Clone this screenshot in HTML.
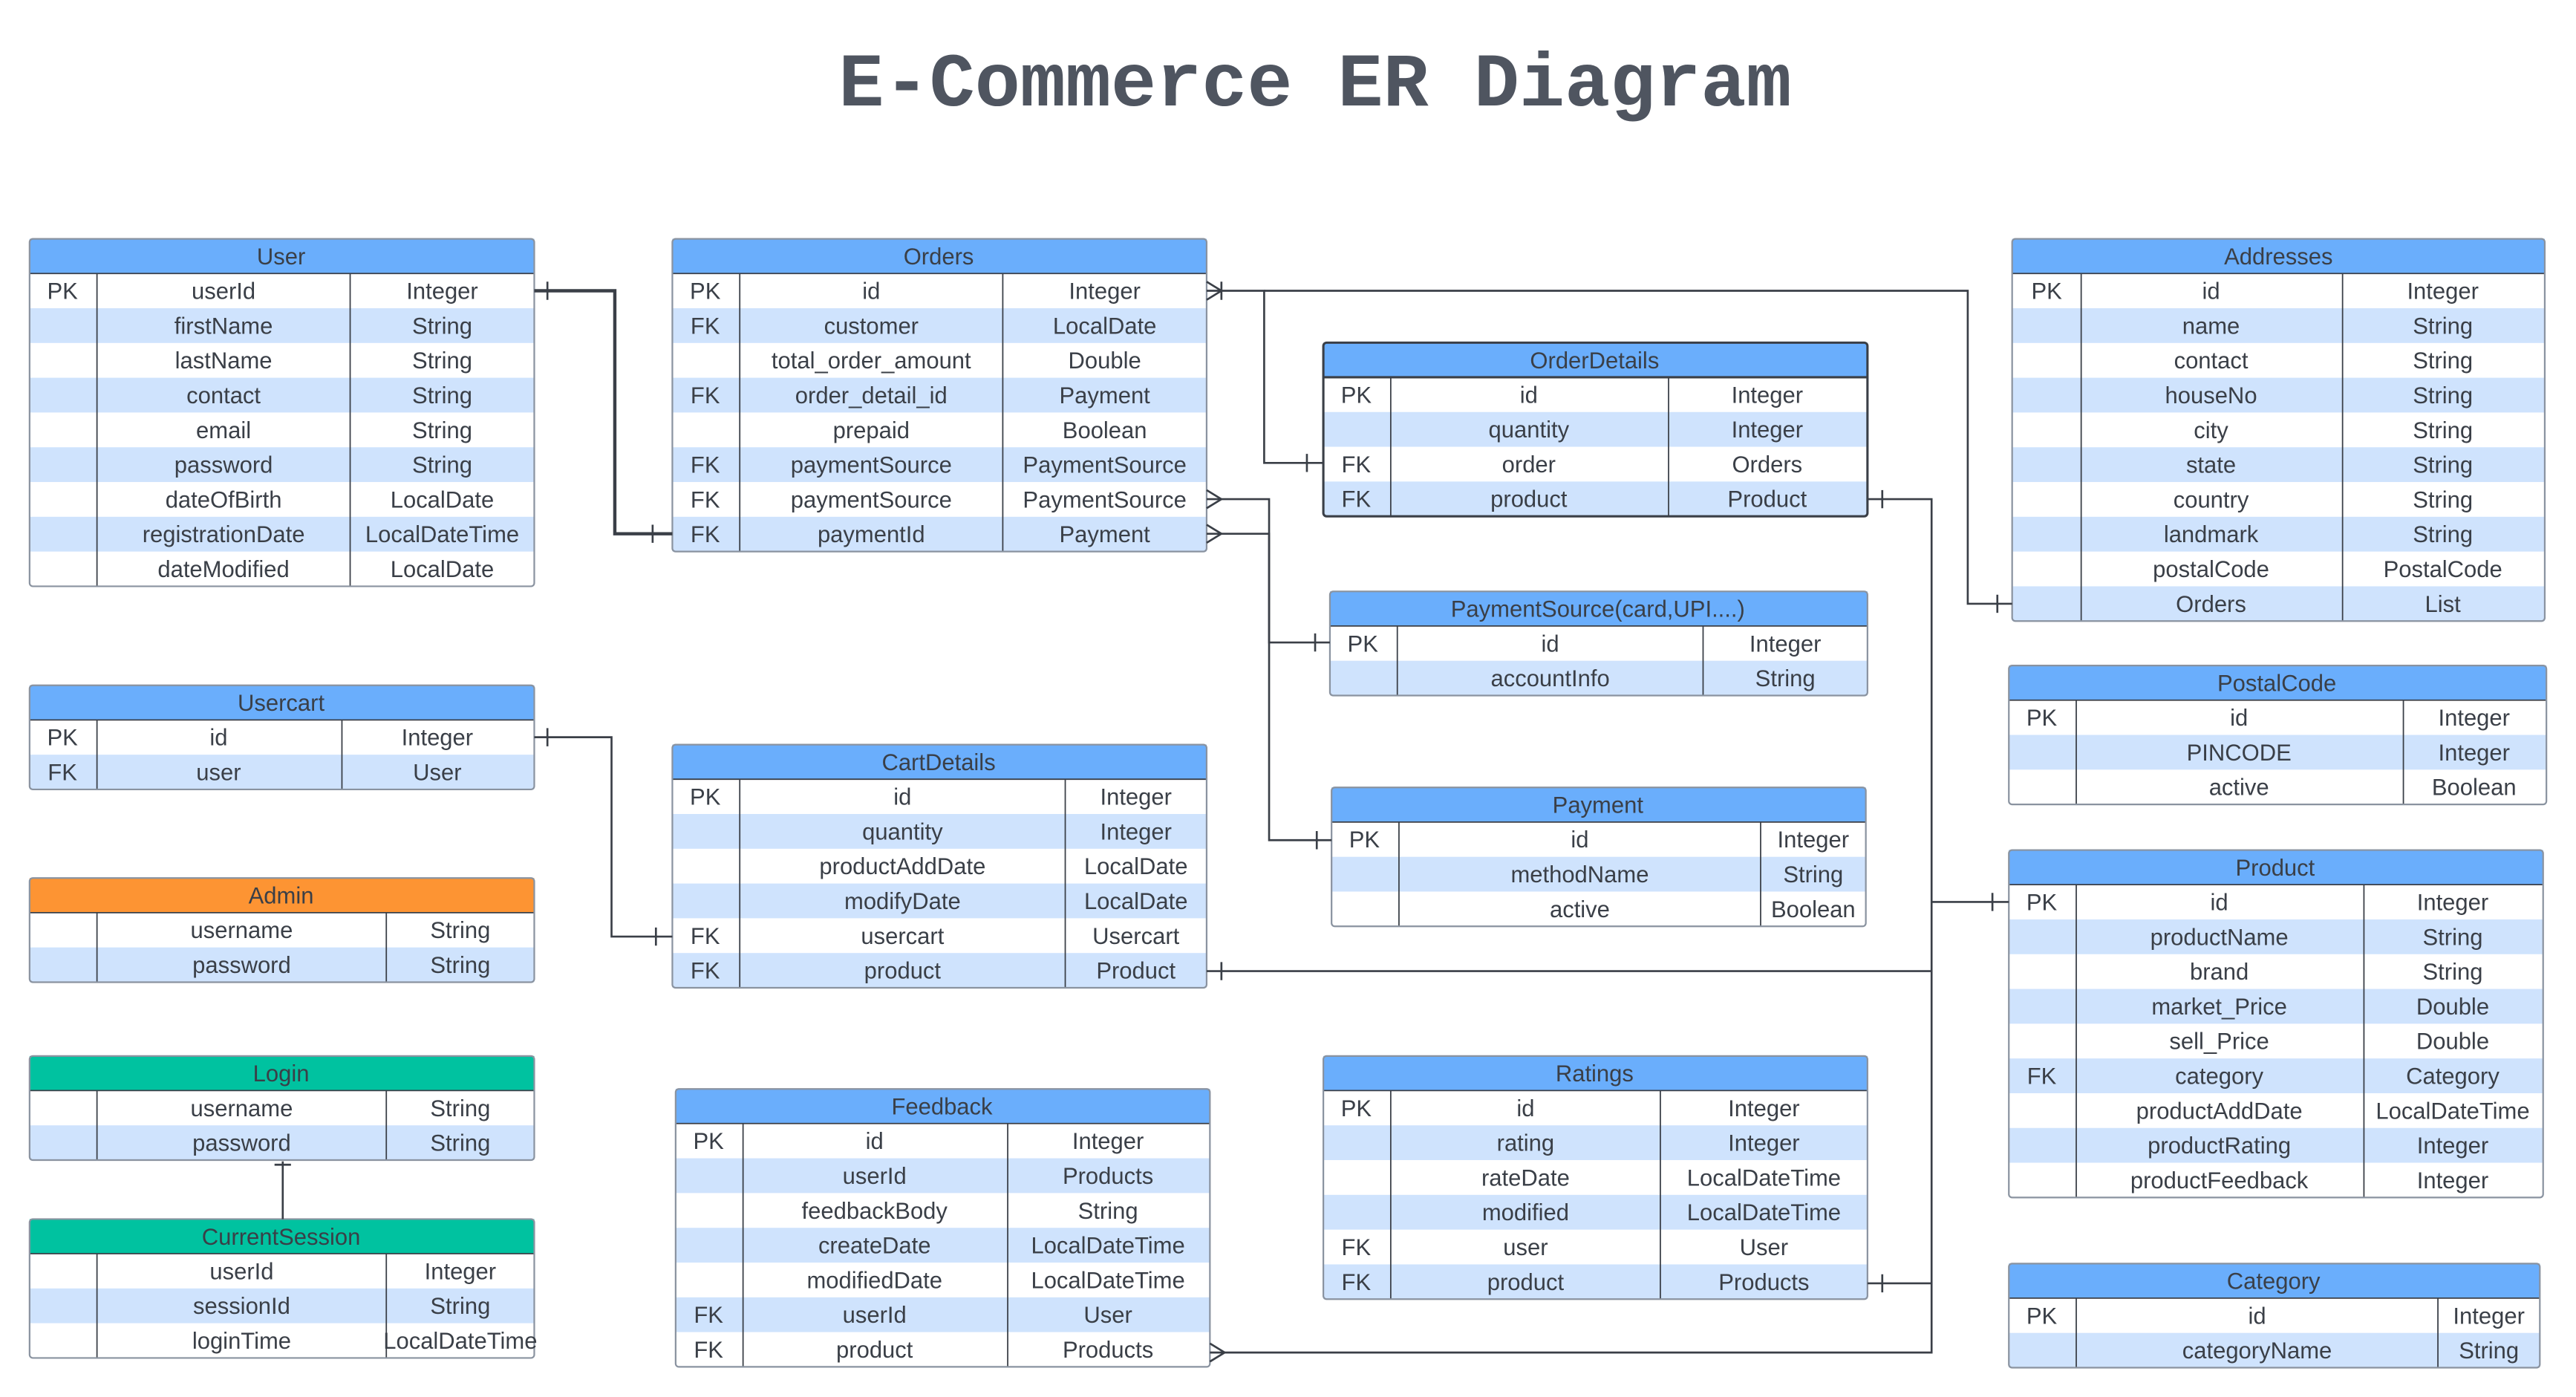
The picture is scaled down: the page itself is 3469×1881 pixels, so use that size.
<!DOCTYPE html>
<html><head><meta charset="utf-8"><style>
html,body{margin:0;padding:0;background:#fff;}
svg{display:block}
text{font-family:"Liberation Sans",sans-serif;font-size:14px;fill:#3a3f47;text-anchor:middle}
.t{font-family:"Liberation Mono",monospace;font-size:46px;font-weight:bold;fill:#4f5560}
.h{fill:#6aaefc}.b{fill:#cfe3fd}
.o{fill:none;stroke:#8a93a0;stroke-width:1}
.v{stroke:#3a3f47;stroke-width:0.8}
.c{fill:none;stroke:#3a3f47;stroke-width:1.2}
</style></head><body>
<svg width="3469" height="1881" viewBox="0 0 1567 848" preserveAspectRatio="none" xmlns="http://www.w3.org/2000/svg">
<text class="t" x="800" y="64">E-Commerce ER Diagram</text>

<!-- User -->
<g transform="translate(18,145)">
<rect class="h" width="307" height="21"/>
<rect class="b" y="42.1" width="307" height="21.1"/><rect class="b" y="84.3" width="307" height="21.1"/><rect class="b" y="126.5" width="307" height="21.1"/><rect class="b" y="168.7" width="307" height="21.1"/>
<line class="v" x1="41" y1="21" x2="41" y2="210.9"/><line class="v" x1="195" y1="21" x2="195" y2="210.9"/><line class="v" x1="0" y1="21" x2="307" y2="21"/>
<rect class="o" width="307" height="210.9" rx="2"/>
<text x="153" y="15.5">User</text>
<text x="20" y="36.5">PK</text><text x="118" y="36.5">userId</text><text x="251" y="36.5">Integer</text>
<text x="118" y="57.6">firstName</text><text x="251" y="57.6">String</text>
<text x="118" y="78.7">lastName</text><text x="251" y="78.7">String</text>
<text x="118" y="99.8">contact</text><text x="251" y="99.8">String</text>
<text x="118" y="120.9">email</text><text x="251" y="120.9">String</text>
<text x="118" y="142">password</text><text x="251" y="142">String</text>
<text x="118" y="163.1">dateOfBirth</text><text x="251" y="163.1">LocalDate</text>
<text x="118" y="184.2">registrationDate</text><text x="251" y="184.2">LocalDateTime</text>
<text x="118" y="205.3">dateModified</text><text x="251" y="205.3">LocalDate</text>
</g>

<!-- Orders -->
<g transform="translate(409,145)">
<rect class="h" width="325" height="21"/>
<rect class="b" y="42.1" width="325" height="21.1"/><rect class="b" y="84.3" width="325" height="21.1"/><rect class="b" y="126.5" width="325" height="21.1"/><rect class="b" y="168.7" width="325" height="21.1"/>
<line class="v" x1="41" y1="21" x2="41" y2="189.8"/><line class="v" x1="201" y1="21" x2="201" y2="189.8"/><line class="v" x1="0" y1="21" x2="325" y2="21"/>
<rect class="o" width="325" height="189.8" rx="2"/>
<text x="162" y="15.5">Orders</text>
<text x="20" y="36.5">PK</text><text x="121" y="36.5">id</text><text x="263" y="36.5">Integer</text>
<text x="20" y="57.6">FK</text><text x="121" y="57.6">customer</text><text x="263" y="57.6">LocalDate</text>
<text x="121" y="78.7">total_order_amount</text><text x="263" y="78.7">Double</text>
<text x="20" y="99.8">FK</text><text x="121" y="99.8">order_detail_id</text><text x="263" y="99.8">Payment</text>
<text x="121" y="120.9">prepaid</text><text x="263" y="120.9">Boolean</text>
<text x="20" y="142">FK</text><text x="121" y="142">paymentSource</text><text x="263" y="142">PaymentSource</text>
<text x="20" y="163.1">FK</text><text x="121" y="163.1">paymentSource</text><text x="263" y="163.1">PaymentSource</text>
<text x="20" y="184.2">FK</text><text x="121" y="184.2">paymentId</text><text x="263" y="184.2">Payment</text>
</g>

<!-- OrderDetails -->
<g transform="translate(805,208)">
<rect class="h" width="331" height="21"/>
<rect class="b" y="42.1" width="331" height="21.1"/><rect class="b" y="84.3" width="331" height="21.1"/>
<line class="v" x1="41" y1="21" x2="41" y2="105.4"/><line class="v" x1="210" y1="21" x2="210" y2="105.4"/><line class="v" x1="0" y1="21" x2="331" y2="21" style="stroke-width:1.4"/>
<rect width="331" height="105.4" rx="2" style="fill:none;stroke:#3a3f47;stroke-width:1.4"/>
<text x="165" y="15.5">OrderDetails</text>
<text x="20" y="36.5">PK</text><text x="125" y="36.5">id</text><text x="270" y="36.5">Integer</text>
<text x="125" y="57.6">quantity</text><text x="270" y="57.6">Integer</text>
<text x="20" y="78.7">FK</text><text x="125" y="78.7">order</text><text x="270" y="78.7">Orders</text>
<text x="20" y="99.8">FK</text><text x="125" y="99.8">product</text><text x="270" y="99.8">Product</text>
</g>

<!-- PaymentSource -->
<g transform="translate(809,359)">
<rect class="h" width="327" height="21"/>
<rect class="b" y="42.1" width="327" height="21.1"/>
<line class="v" x1="41" y1="21" x2="41" y2="63.2"/><line class="v" x1="227" y1="21" x2="227" y2="63.2"/><line class="v" x1="0" y1="21" x2="327" y2="21"/>
<rect class="o" width="327" height="63.2" rx="2"/>
<text x="163" y="15.5">PaymentSource(card,UPI....)</text>
<text x="20" y="36.5">PK</text><text x="134" y="36.5">id</text><text x="277" y="36.5">Integer</text>
<text x="134" y="57.6">accountInfo</text><text x="277" y="57.6">String</text>
</g>

<!-- Payment -->
<g transform="translate(810,478)">
<rect class="h" width="325" height="21"/>
<rect class="b" y="42.1" width="325" height="21.1"/>
<line class="v" x1="41" y1="21" x2="41" y2="84.3"/><line class="v" x1="261" y1="21" x2="261" y2="84.3"/><line class="v" x1="0" y1="21" x2="325" y2="21"/>
<rect class="o" width="325" height="84.3" rx="2"/>
<text x="162" y="15.5">Payment</text>
<text x="20" y="36.5">PK</text><text x="151" y="36.5">id</text><text x="293" y="36.5">Integer</text>
<text x="151" y="57.6">methodName</text><text x="293" y="57.6">String</text>
<text x="151" y="78.7">active</text><text x="293" y="78.7">Boolean</text>
</g>

<!-- Addresses -->
<g transform="translate(1224,145)">
<rect class="h" width="324" height="21"/>
<rect class="b" y="42.1" width="324" height="21.1"/><rect class="b" y="84.3" width="324" height="21.1"/><rect class="b" y="126.5" width="324" height="21.1"/><rect class="b" y="168.7" width="324" height="21.1"/><rect class="b" y="210.9" width="324" height="21.1"/>
<line class="v" x1="42" y1="21" x2="42" y2="232"/><line class="v" x1="201" y1="21" x2="201" y2="232"/><line class="v" x1="0" y1="21" x2="324" y2="21"/>
<rect class="o" width="324" height="232" rx="2"/>
<text x="162" y="15.5">Addresses</text>
<text x="21" y="36.5">PK</text><text x="121" y="36.5">id</text><text x="262" y="36.5">Integer</text>
<text x="121" y="57.6">name</text><text x="262" y="57.6">String</text>
<text x="121" y="78.7">contact</text><text x="262" y="78.7">String</text>
<text x="121" y="99.8">houseNo</text><text x="262" y="99.8">String</text>
<text x="121" y="120.9">city</text><text x="262" y="120.9">String</text>
<text x="121" y="142">state</text><text x="262" y="142">String</text>
<text x="121" y="163.1">country</text><text x="262" y="163.1">String</text>
<text x="121" y="184.2">landmark</text><text x="262" y="184.2">String</text>
<text x="121" y="205.3">postalCode</text><text x="262" y="205.3">PostalCode</text>
<text x="121" y="226.4">Orders</text><text x="262" y="226.4">List</text>
</g>

<!-- PostalCode -->
<g transform="translate(1222,404)">
<rect class="h" width="327" height="21"/>
<rect class="b" y="42.1" width="327" height="21.1"/>
<line class="v" x1="41" y1="21" x2="41" y2="84.3"/><line class="v" x1="240" y1="21" x2="240" y2="84.3"/><line class="v" x1="0" y1="21" x2="327" y2="21"/>
<rect class="o" width="327" height="84.3" rx="2"/>
<text x="163" y="15.5">PostalCode</text>
<text x="20" y="36.5">PK</text><text x="140" y="36.5">id</text><text x="283" y="36.5">Integer</text>
<text x="140" y="57.6">PINCODE</text><text x="283" y="57.6">Integer</text>
<text x="140" y="78.7">active</text><text x="283" y="78.7">Boolean</text>
</g>

<!-- Product -->
<g transform="translate(1222,516)">
<rect class="h" width="325" height="21"/>
<rect class="b" y="42.1" width="325" height="21.1"/><rect class="b" y="84.3" width="325" height="21.1"/><rect class="b" y="126.5" width="325" height="21.1"/><rect class="b" y="168.7" width="325" height="21.1"/>
<line class="v" x1="41" y1="21" x2="41" y2="210.9"/><line class="v" x1="216" y1="21" x2="216" y2="210.9"/><line class="v" x1="0" y1="21" x2="325" y2="21"/>
<rect class="o" width="325" height="210.9" rx="2"/>
<text x="162" y="15.5">Product</text>
<text x="20" y="36.5">PK</text><text x="128" y="36.5">id</text><text x="270" y="36.5">Integer</text>
<text x="128" y="57.6">productName</text><text x="270" y="57.6">String</text>
<text x="128" y="78.7">brand</text><text x="270" y="78.7">String</text>
<text x="128" y="99.8">market_Price</text><text x="270" y="99.8">Double</text>
<text x="128" y="120.9">sell_Price</text><text x="270" y="120.9">Double</text>
<text x="20" y="142">FK</text><text x="128" y="142">category</text><text x="270" y="142">Category</text>
<text x="128" y="163.1">productAddDate</text><text x="270" y="163.1">LocalDateTime</text>
<text x="128" y="184.2">productRating</text><text x="270" y="184.2">Integer</text>
<text x="128" y="205.3">productFeedback</text><text x="270" y="205.3">Integer</text>
</g>

<!-- Category -->
<g transform="translate(1222,767)">
<rect class="h" width="323" height="21"/>
<rect class="b" y="42.1" width="323" height="21.1"/>
<line class="v" x1="41" y1="21" x2="41" y2="63.2"/><line class="v" x1="261" y1="21" x2="261" y2="63.2"/><line class="v" x1="0" y1="21" x2="323" y2="21"/>
<rect class="o" width="323" height="63.2" rx="2"/>
<text x="161" y="15.5">Category</text>
<text x="20" y="36.5">PK</text><text x="151" y="36.5">id</text><text x="292" y="36.5">Integer</text>
<text x="151" y="57.6">categoryName</text><text x="292" y="57.6">String</text>
</g>

<!-- Usercart -->
<g transform="translate(18,416)">
<rect class="h" width="307" height="21"/>
<rect class="b" y="42.1" width="307" height="21.1"/>
<line class="v" x1="41" y1="21" x2="41" y2="63.2"/><line class="v" x1="190" y1="21" x2="190" y2="63.2"/><line class="v" x1="0" y1="21" x2="307" y2="21"/>
<rect class="o" width="307" height="63.2" rx="2"/>
<text x="153" y="15.5">Usercart</text>
<text x="20" y="36.5">PK</text><text x="115" y="36.5">id</text><text x="248" y="36.5">Integer</text>
<text x="20" y="57.6">FK</text><text x="115" y="57.6">user</text><text x="248" y="57.6">User</text>
</g>

<!-- Admin -->
<g transform="translate(18,533)">
<rect width="307" height="21" style="fill:#fd9433"/>
<rect class="b" y="42.1" width="307" height="21.1"/>
<line class="v" x1="41" y1="21" x2="41" y2="63.2"/><line class="v" x1="217" y1="21" x2="217" y2="63.2"/><line class="v" x1="0" y1="21" x2="307" y2="21"/>
<rect class="o" width="307" height="63.2" rx="2"/>
<text x="153" y="15.5">Admin</text>
<text x="129" y="36.5">username</text><text x="262" y="36.5">String</text>
<text x="129" y="57.6">password</text><text x="262" y="57.6">String</text>
</g>

<!-- Login -->
<g transform="translate(18,641)">
<rect width="307" height="21" style="fill:#00c2a0"/>
<rect class="b" y="42.1" width="307" height="21.1"/>
<line class="v" x1="41" y1="21" x2="41" y2="63.2"/><line class="v" x1="217" y1="21" x2="217" y2="63.2"/><line class="v" x1="0" y1="21" x2="307" y2="21"/>
<rect class="o" width="307" height="63.2" rx="2"/>
<text x="153" y="15.5">Login</text>
<text x="129" y="36.5">username</text><text x="262" y="36.5">String</text>
<text x="129" y="57.6">password</text><text x="262" y="57.6">String</text>
</g>

<!-- CurrentSession -->
<g transform="translate(18,740)">
<rect width="307" height="21" style="fill:#00c2a0"/>
<rect class="b" y="42.1" width="307" height="21.1"/>
<line class="v" x1="41" y1="21" x2="41" y2="84.3"/><line class="v" x1="217" y1="21" x2="217" y2="84.3"/><line class="v" x1="0" y1="21" x2="307" y2="21"/>
<rect class="o" width="307" height="84.3" rx="2"/>
<text x="153" y="15.5">CurrentSession</text>
<text x="129" y="36.5">userId</text><text x="262" y="36.5">Integer</text>
<text x="129" y="57.6">sessionId</text><text x="262" y="57.6">String</text>
<text x="129" y="78.7">loginTime</text><text x="262" y="78.7">LocalDateTime</text>
</g>

<!-- CartDetails -->
<g transform="translate(409,452)">
<rect class="h" width="325" height="21"/>
<rect class="b" y="42.1" width="325" height="21.1"/><rect class="b" y="84.3" width="325" height="21.1"/><rect class="b" y="126.5" width="325" height="21.1"/>
<line class="v" x1="41" y1="21" x2="41" y2="147.6"/><line class="v" x1="239" y1="21" x2="239" y2="147.6"/><line class="v" x1="0" y1="21" x2="325" y2="21"/>
<rect class="o" width="325" height="147.6" rx="2"/>
<text x="162" y="15.5">CartDetails</text>
<text x="20" y="36.5">PK</text><text x="140" y="36.5">id</text><text x="282" y="36.5">Integer</text>
<text x="140" y="57.6">quantity</text><text x="282" y="57.6">Integer</text>
<text x="140" y="78.7">productAddDate</text><text x="282" y="78.7">LocalDate</text>
<text x="140" y="99.8">modifyDate</text><text x="282" y="99.8">LocalDate</text>
<text x="20" y="120.9">FK</text><text x="140" y="120.9">usercart</text><text x="282" y="120.9">Usercart</text>
<text x="20" y="142">FK</text><text x="140" y="142">product</text><text x="282" y="142">Product</text>
</g>

<!-- Feedback -->
<g transform="translate(411,661)">
<rect class="h" width="325" height="21"/>
<rect class="b" y="42.1" width="325" height="21.1"/><rect class="b" y="84.3" width="325" height="21.1"/><rect class="b" y="126.5" width="325" height="21.1"/>
<line class="v" x1="41" y1="21" x2="41" y2="168.7"/><line class="v" x1="202" y1="21" x2="202" y2="168.7"/><line class="v" x1="0" y1="21" x2="325" y2="21"/>
<rect class="o" width="325" height="168.7" rx="2"/>
<text x="162" y="15.5">Feedback</text>
<text x="20" y="36.5">PK</text><text x="121" y="36.5">id</text><text x="263" y="36.5">Integer</text>
<text x="121" y="57.6">userId</text><text x="263" y="57.6">Products</text>
<text x="121" y="78.7">feedbackBody</text><text x="263" y="78.7">String</text>
<text x="121" y="99.8">createDate</text><text x="263" y="99.8">LocalDateTime</text>
<text x="121" y="120.9">modifiedDate</text><text x="263" y="120.9">LocalDateTime</text>
<text x="20" y="142">FK</text><text x="121" y="142">userId</text><text x="263" y="142">User</text>
<text x="20" y="163.1">FK</text><text x="121" y="163.1">product</text><text x="263" y="163.1">Products</text>
</g>

<!-- Ratings -->
<g transform="translate(805,641)">
<rect class="h" width="331" height="21"/>
<rect class="b" y="42.1" width="331" height="21.1"/><rect class="b" y="84.3" width="331" height="21.1"/><rect class="b" y="126.5" width="331" height="21.1"/>
<line class="v" x1="41" y1="21" x2="41" y2="147.6"/><line class="v" x1="205" y1="21" x2="205" y2="147.6"/><line class="v" x1="0" y1="21" x2="331" y2="21"/>
<rect class="o" width="331" height="147.6" rx="2"/>
<text x="165" y="15.5">Ratings</text>
<text x="20" y="36.5">PK</text><text x="123" y="36.5">id</text><text x="268" y="36.5">Integer</text>
<text x="123" y="57.6">rating</text><text x="268" y="57.6">Integer</text>
<text x="123" y="78.7">rateDate</text><text x="268" y="78.7">LocalDateTime</text>
<text x="123" y="99.8">modified</text><text x="268" y="99.8">LocalDateTime</text>
<text x="20" y="120.9">FK</text><text x="123" y="120.9">user</text><text x="268" y="120.9">User</text>
<text x="20" y="142">FK</text><text x="123" y="142">product</text><text x="268" y="142">Products</text>
</g>

<!-- Connectors -->
<g class="c">
<path d="M325 176.5 H374 V324 H409" style="stroke-width:2"/>
<path d="M333 171 V182 M397 318.5 V329.5"/>
<path d="M734 176.5 H769 V281 H805"/>
<path d="M734 171 L743 176.5 L734 182 M743 171 V182 M795 275.5 V286.5"/>
<path d="M769 176.5 H1197 V366.5 H1224"/>
<path d="M1215 361 V372"/>
<path d="M734 303 H772 V390 H809"/>
<path d="M734 297.5 L743 303 L734 308.5 M800 384.5 V395.5"/>
<path d="M734 324 H772 V510 H810"/>
<path d="M734 318.5 L743 324 L734 329.5 M801 504.5 V515.5"/>
<path d="M325 447.5 H372 V568.5 H409"/>
<path d="M333 442 V453 M399 563 V574"/>
<path d="M1136 303 H1175 V821 H736"/>
<path d="M1145 297.5 V308.5"/>
<path d="M1175 547.5 H1222 M1212 542 V553"/>
<path d="M734 589.5 H1175 M743 584 V595"/>
<path d="M1136 779 H1175 M1145 773.5 V784.5"/>
<path d="M736 815.5 L745 821 L736 826.5"/>
<path d="M172 705 V740 M167 707 H177"/>
</g>
</svg>
</body></html>
